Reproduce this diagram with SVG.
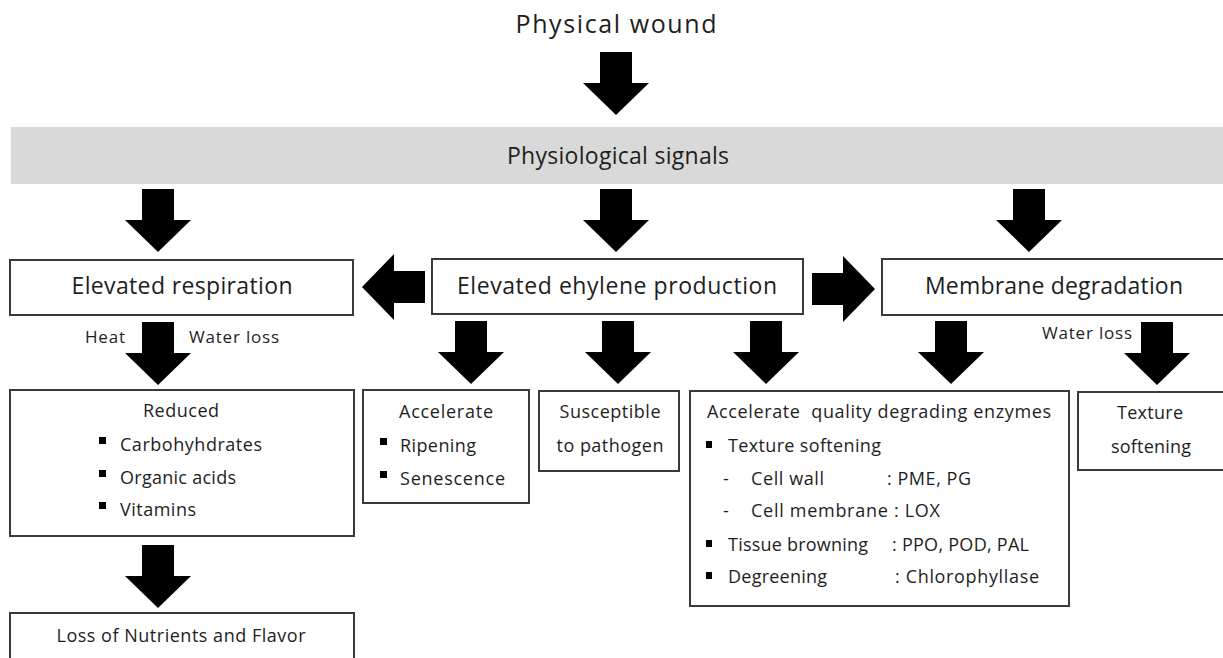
<svg xmlns="http://www.w3.org/2000/svg" width="1223" height="658" viewBox="0 0 1223 658">
<style>
.t{font-family:"Open Sans","Noto Sans","Liberation Sans",sans-serif;fill:#1e1e1e}
.big{font-size:25px}
.mid{font-size:23px}
.sm{font-size:18px}
.xs{font-size:17px}
.box{fill:#fff;stroke:#3a3a3a;stroke-width:2}
.arr{fill:#000}
.bul{fill:#000}
</style>
<defs>
<path id="dn" d="M-16,0 H16 V31 H33 L0,63 L-33,31 H-16 Z"/>
</defs>
<rect width="1223" height="658" fill="#fff"/>

<g id="node-wound">
<text class="t big" x="616" y="33" text-anchor="middle" textLength="201">Physical wound</text>
</g>

<g id="node-signals">
<rect x="11" y="127" width="1212" height="57" fill="#d9d9d9"/>
<text class="t mid" x="618" y="164" text-anchor="middle" textLength="222">Physiological signals</text>
</g>

<g id="node-respiration">
<rect class="box" x="10" y="260" width="343" height="55"/>
<text class="t mid" x="182" y="294" text-anchor="middle" textLength="221">Elevated respiration</text>
</g>

<g id="node-ethylene">
<rect class="box" x="432" y="259" width="371" height="55"/>
<text class="t mid" x="617" y="294" text-anchor="middle" textLength="320">Elevated ehylene production</text>
</g>

<g id="node-membrane">
<rect class="box" x="882" y="259" width="360" height="56"/>
<text class="t mid" x="1054" y="294" text-anchor="middle" textLength="258">Membrane degradation</text>
</g>

<g id="node-reduced">
<rect class="box" x="10" y="390" width="344" height="146"/>
<text class="t sm" x="181" y="417" text-anchor="middle" textLength="76">Reduced</text>
<rect class="bul" x="99" y="437" width="7" height="7"/>
<text class="t sm" x="120" y="451" textLength="142">Carbohyhdrates</text>
<rect class="bul" x="99" y="470" width="7" height="7"/>
<text class="t sm" x="120" y="484" textLength="116">Organic acids</text>
<rect class="bul" x="99" y="502" width="7" height="7"/>
<text class="t sm" x="120" y="516" textLength="76">Vitamins</text>
</g>

<g id="node-loss">
<rect class="box" x="10" y="613" width="344" height="60"/>
<text class="t sm" x="181" y="642" text-anchor="middle" textLength="249">Loss of Nutrients and Flavor</text>
</g>

<g id="node-accelerate">
<rect class="box" x="363" y="390" width="166" height="113"/>
<text class="t sm" x="446" y="418" text-anchor="middle" textLength="94">Accelerate</text>
<rect class="bul" x="380" y="438" width="7" height="7"/>
<text class="t sm" x="400" y="452" textLength="76">Ripening</text>
<rect class="bul" x="380" y="471" width="7" height="7"/>
<text class="t sm" x="400" y="485" textLength="105">Senescence</text>
</g>

<g id="node-pathogen">
<rect class="box" x="539" y="391" width="140" height="80"/>
<text class="t sm" x="610" y="418" text-anchor="middle" textLength="101">Susceptible</text>
<text class="t sm" x="610" y="452" text-anchor="middle" textLength="107">to pathogen</text>
</g>

<g id="node-enzymes">
<rect class="box" x="690" y="391" width="379" height="215"/>
<text class="t sm" x="707" y="418" textLength="344" xml:space="preserve">Accelerate  quality degrading enzymes</text>
<rect class="bul" x="706" y="441" width="6" height="7"/>
<text class="t sm" x="728" y="452" textLength="153">Texture softening</text>
<text class="t sm" x="723" y="485">-</text>
<text class="t sm" x="751" y="485" textLength="73">Cell wall</text>
<text class="t sm" x="887" y="485" textLength="84">: PME, PG</text>
<text class="t sm" x="723" y="517">-</text>
<text class="t sm" x="751" y="517" textLength="189">Cell membrane : LOX</text>
<rect class="bul" x="706" y="540" width="6" height="7"/>
<text class="t sm" x="728" y="551" textLength="140">Tissue browning</text>
<text class="t sm" x="892" y="551" textLength="137">: PPO, POD, PAL</text>
<rect class="bul" x="706" y="572" width="6" height="7"/>
<text class="t sm" x="728" y="583" textLength="99">Degreening</text>
<text class="t sm" x="895" y="583" textLength="144">: Chlorophyllase</text>
</g>

<g id="node-texture">
<rect class="box" x="1078" y="392" width="160" height="78"/>
<text class="t sm" x="1150" y="419" text-anchor="middle" textLength="66">Texture</text>
<text class="t sm" x="1151" y="453" text-anchor="middle" textLength="80">softening</text>
</g>

<g id="connectors">
<use href="#dn" class="arr" transform="translate(616,52)"/>
<use href="#dn" class="arr" transform="translate(158,189)"/>
<use href="#dn" class="arr" transform="translate(616,189)"/>
<use href="#dn" class="arr" transform="translate(1029,189)"/>
<use href="#dn" class="arr" transform="translate(425,287) rotate(90)"/>
<use href="#dn" class="arr" transform="translate(812,289) rotate(-90)"/>
<use href="#dn" class="arr" transform="translate(158,322)"/>
<use href="#dn" class="arr" transform="translate(471,321)"/>
<use href="#dn" class="arr" transform="translate(618,321)"/>
<use href="#dn" class="arr" transform="translate(766,321)"/>
<use href="#dn" class="arr" transform="translate(951,321)"/>
<use href="#dn" class="arr" transform="translate(1157,322)"/>
<use href="#dn" class="arr" transform="translate(158,545)"/>
<text class="t xs" x="85" y="343" textLength="40">Heat</text>
<text class="t xs" x="189" y="343" textLength="90">Water loss</text>
<text class="t xs" x="1042" y="339" textLength="90">Water loss</text>
</g>
</svg>
